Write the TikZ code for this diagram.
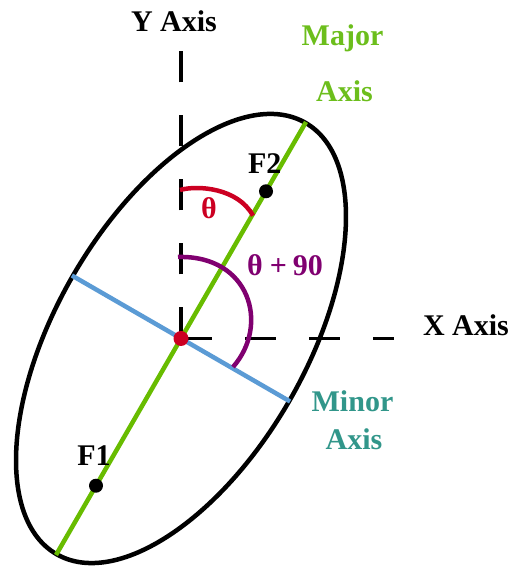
\documentclass[tikz,border=0pt]{standalone}
\usepackage{fontspec}
\setmainfont{Liberation Serif}
\usetikzlibrary{calc}
\definecolor{majgreen}{RGB}{104,188,0}
\definecolor{majtext}{RGB}{108,190,28}
\definecolor{minblue}{RGB}{91,155,213}
\definecolor{minteal}{RGB}{49,150,138}
\definecolor{angred}{RGB}{204,0,34}
\definecolor{angpurple}{RGB}{128,0,112}
\tikzset{
  lbl/.style={font=\fontsize{30}{34}\selectfont\bfseries, inner sep=0pt, anchor=base},
  axisline/.style={line width=3.8pt, dash pattern=on 31pt off 33pt},
  thick4/.style={line width=4.5pt},
  fdot/.style={circle, fill=black, inner sep=0pt, minimum size=14pt},
  cdot/.style={circle, fill=angred, inner sep=0pt, minimum size=15pt},
}
\begin{document}
\begin{tikzpicture}[x=1pt,y=1pt]
\useasboundingbox (0,0) rectangle (512,567);
\coordinate (C) at (181,228.5);
\coordinate (Ytop) at (181,517);
\coordinate (Xend) at (394,228.5);
\coordinate (M1) at ($(C)+(60:250)$);
\coordinate (M2) at ($(C)+(240:250)$);
\coordinate (N1) at ($(C)+(-30:126)$);
\coordinate (N2) at ($(C)+(150:126)$);
% ellipse
\draw[thick4, rotate around={60:(C)}] (C) ellipse [x radius=249pt, y radius=125pt];
% axes
\draw[axisline] (C) -- (Ytop);
\draw[axisline] (C) -- (Xend);
% minor and major axes
\draw[thick4, minblue] (N2) -- (N1);
\draw[thick4, majgreen] (M2) -- (M1);
% angle arcs
\coordinate (R0) at (180,377);
\coordinate (R3) at (253,351.3);
\draw[thick4, angred] (R0) .. controls (198,382) and (238,379) .. (R3);
\coordinate (P0) at (178,310);
\coordinate (P3) at (233,200);
\draw[thick4, angpurple] (P0) .. controls (250,312) and (270,242) .. (P3);
% dots
\node[fdot] (F2) at ($(C)+(60:170)$) {};
\node[fdot] (F1) at ($(C)+(240:170)$) {};
\node[cdot] (Cdot) at (C) {};
% labels
\node[lbl] (ylab) at (174,535) {Y Axis};
\node[lbl, text=majtext] (maj1) at (342.5,521) {Major};
\node[lbl, text=majtext] (maj2) at (344.5,465.3) {Axis};
\node[lbl] (xlab) at (466,231) {X Axis};
\node[lbl, text=minteal] (min1) at (352.5,155.3) {Minor};
\node[lbl, text=minteal] (min2) at (354,117) {Axis};
\node[lbl] (f1lab) at (94,101.3) {F1};
\node[lbl] (f2lab) at (264.7,393) {F2};
\node[lbl, text=angred] (th) at (209,348.7) {θ};
\node[lbl, text=angpurple] (th90) at (285,291) {θ\hspace{7pt}+\hspace{6pt}90};
\end{tikzpicture}
\end{document}
